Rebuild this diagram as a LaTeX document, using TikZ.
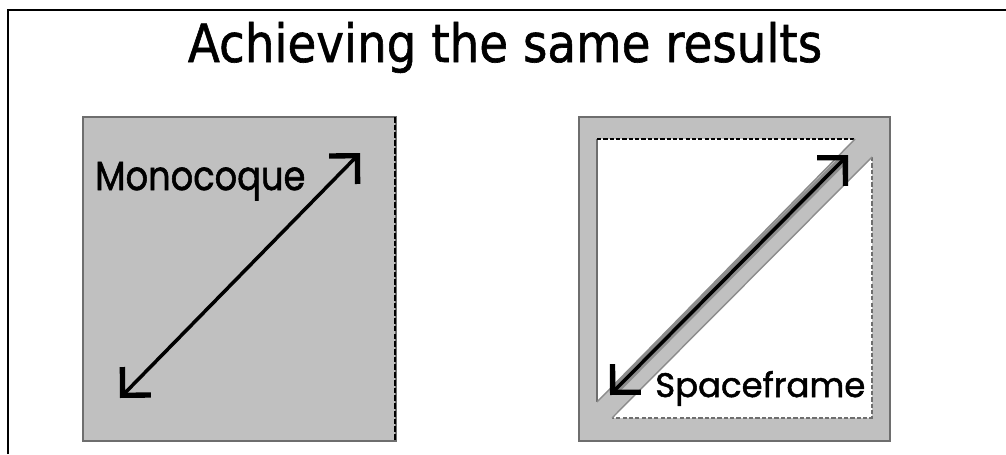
\documentclass[tikz,border=0pt]{standalone}
\usepackage{fontspec}
\usepackage{graphicx}
\usetikzlibrary{arrows.meta}
\newfontfamily\titlefont[FakeBold=1.2]{DejaVu Sans}
\newfontfamily\labelfont[FakeBold=1.5]{Poppins}
\definecolor{PanelGray}{RGB}{192,192,192}
\definecolor{EdgeGray}{RGB}{110,110,110}
\definecolor{HaloGray}{RGB}{140,140,140}

\tikzset{
  panel/.style={fill=PanelGray,draw=EdgeGray,line width=1.8pt},
  labeltext/.style={inner sep=0pt,anchor=base west,font=\labelfont},
  bar/.style={line width=2.5pt,>={Straight Barb[length=5mm,width=10mm,line width=3.8pt]},<->},
}

\begin{document}
\begin{tikzpicture}[x=0.025cm,y=-0.025cm]
  \useasboundingbox (0,0) rectangle (1006,454);
  % slide frame and title
  \draw[line width=1.4pt] (8,454) -- (8,10) -- (1006,10);
  \node[inner sep=0pt,anchor=base] (title) at (505,62)
    {\resizebox{15.85cm}{1cm}{\titlefont Achieving the same results}};

  % monocoque
  \draw[panel] (83,117) rectangle (396,441);
  \draw[line width=1.8pt,dash pattern=on 4pt off 1.5pt] (395,117) -- (395,441);
  \node[labeltext] (mono) at (95,190) {\resizebox{5.25cm}{0.7cm}{Monocoque}};
  \coordinate (mono-lo) at (120,398);
  \coordinate (mono-hi) at (360,153);
  \draw[bar] (mono-lo) -- (mono-hi);

  % spaceframe
  \draw[panel] (579,117) rectangle (890,441);
  \fill[white] (597,139) -- (855,139) -- (597,402) -- cycle;
  \fill[white] (872,157) -- (872,418) -- (612,418) -- cycle;
  \draw[EdgeGray,line width=1.8pt] (597,139) -- (597,402);
  \draw[line width=2pt,dash pattern=on 3pt off 1.5pt] (597,139) -- (855,139);
  \draw[EdgeGray,line width=2pt,dash pattern=on 3pt off 1.5pt]
    (872,157) -- (872,418) -- (612,418);
  \draw[HaloGray,line width=1pt] (855,139) -- (597,402) (872,157) -- (612,418);
  \coordinate (frame-lo) at (610,395);
  \coordinate (frame-hi) at (848,155);
  \draw[HaloGray,line width=6.5pt,shorten <=3pt,shorten >=3pt] (frame-lo) -- (frame-hi);
  \draw[bar] (frame-lo) -- (frame-hi);
  \node[labeltext] (space) at (655,397) {\resizebox{5.25cm}{0.65cm}{Spaceframe}};
\end{tikzpicture}
\end{document}
